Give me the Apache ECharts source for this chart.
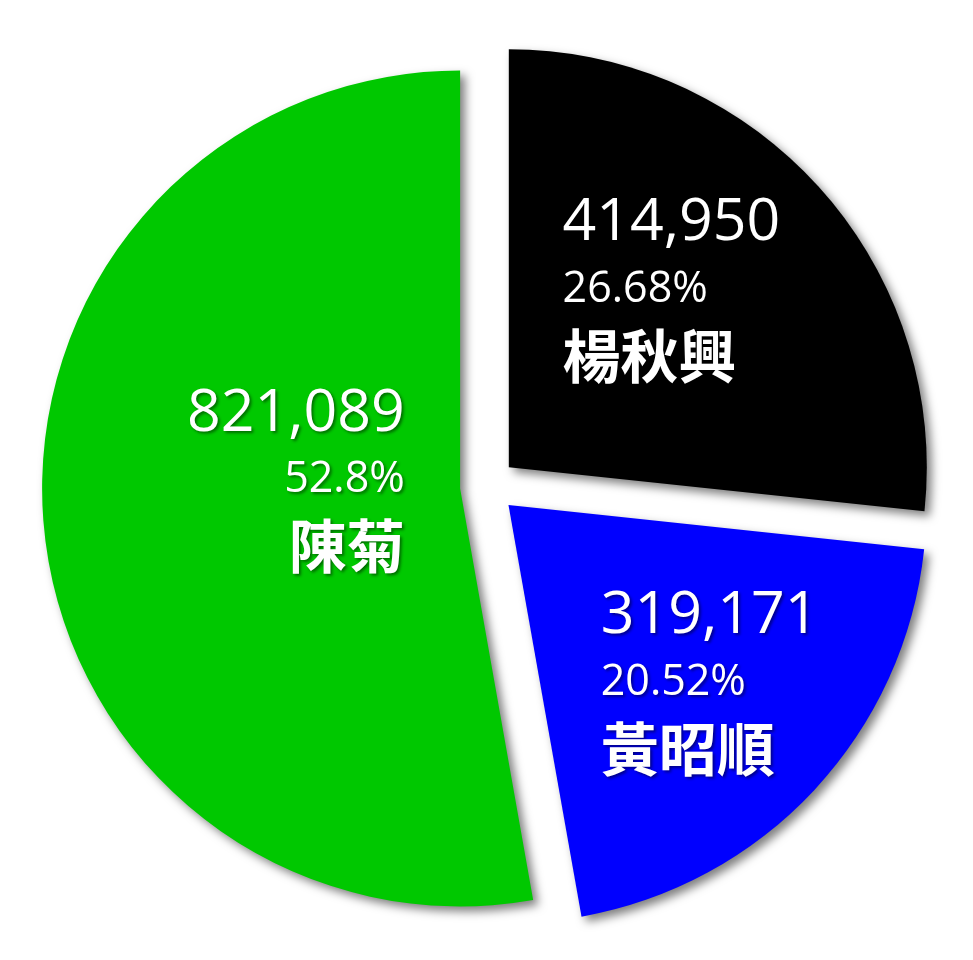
<!DOCTYPE html>
<html>
<head>
<meta charset="utf-8">
<script src="https://cdn.jsdelivr.net/npm/echarts@6/dist/echarts.min.js"></script>
<style>
html,body{margin:0;padding:0;background:#fff;}
#main{width:973px;height:960px;}
</style>
</head>
<body>
<div id="main"></div>
<script>
const names = ['楊秋興', '黃昭順', '陳菊'];
const votes = [414950, 319171, 821089];
const colors = ['#000000', '#0000ff', '#00c800'];

// label styling per slice (alignment and shift from default inside position)
const labelAlign = ['left', 'left', 'right'];
const labelShift = [[5, -36], [46, 33], [47, -27]];

const FONT = "'Open Sans', 'Noto Sans CJK TC', sans-serif";
const CJK = "'Noto Sans CJK TC', sans-serif";
const txtShadow = {textShadowColor: 'rgba(0,0,0,0.45)', textShadowBlur: 3, textShadowOffsetX: 2, textShadowOffsetY: 2};

function rich(align) {
  return {
    v: Object.assign({fontFamily: FONT, fontSize: 59, color: '#fff', lineHeight: 70, align: align}, txtShadow),
    p: Object.assign({fontFamily: FONT, fontSize: 43, color: '#fff', lineHeight: 62, align: align}, txtShadow),
    n: Object.assign({fontFamily: CJK, fontSize: 58, fontWeight: 'bold', color: '#fff', lineHeight: 70, align: align}, txtShadow)
  };
}

const data = names.map((n, i) => ({
  name: n,
  value: votes[i],
  selected: true,
  itemStyle: {color: colors[i]},
  label: {rich: rich(labelAlign[i])}
}));

const chart = echarts.init(document.getElementById('main'), null, {renderer: 'canvas'});
chart.setOption({
  backgroundColor: '#ffffff',
  animation: false,
  series: [{
    type: 'pie',
    center: [488, 486],
    radius: [0, 418],
    startAngle: 90,
    clockwise: true,
    selectedMode: 'multiple',
    selectedOffset: 28,
    avoidLabelOverlap: false,
    emphasis: {disabled: true},
    itemStyle: {
      borderWidth: 0,
      shadowBlur: 10,
      shadowOffsetX: 5,
      shadowOffsetY: 5,
      shadowColor: 'rgba(0,0,0,0.5)'
    },
    label: {
      show: true,
      position: 'inside',
      formatter: function (p) {
        return '{v|' + echarts.format.addCommas(p.value) + '}\n{p|' + p.percent + '%}\n{n|' + p.name + '}';
      }
    },
    labelLine: {show: false},
    labelLayout: function (params) {
      const s = labelShift[params.dataIndex];
      return {dx: s[0], dy: s[1]};
    },
    data: data
  }]
});
</script>
</body>
</html>
